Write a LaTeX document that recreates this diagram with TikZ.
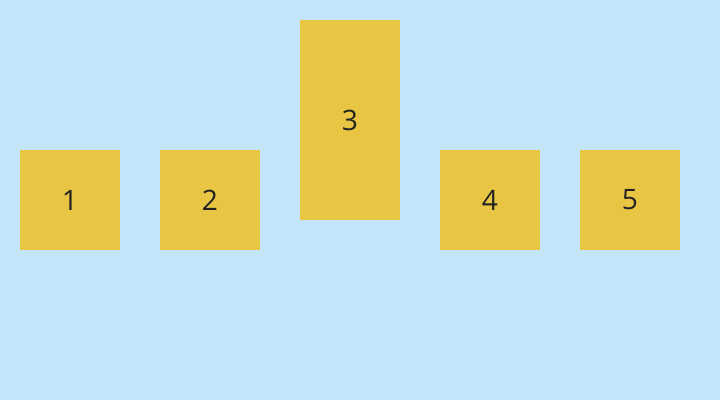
\documentclass[tikz,border=0pt]{standalone}
\usepackage{fontspec}
\setmainfont{Open Sans}
\usepackage{tikz}
\usetikzlibrary{positioning}
\definecolor{flexbg}{HTML}{C2E5F9}
\definecolor{flexgold}{HTML}{E8C644}
\definecolor{flexink}{HTML}{222222}

\begin{document}
\begin{tikzpicture}[
  every node/.style={font=\fontsize{20}{24}\selectfont, text=flexink},
  item/.style={fill=flexgold, minimum width=2.5cm, inner sep=0pt}
]

%% Background
\fill[flexbg] (0, 0) rectangle (18, 10);
\useasboundingbox (0, 0) rectangle (18, 10);

%% ── ITEMS ─────────────────────────────────────────────
\foreach \i/\x in {1/1.75, 2/5.25, 4/12.25, 5/15.75}
  \node[item, minimum height=2.5cm] (item\i) at (\x, 5.0) {\i};

\node[item, minimum height=5.0cm] (item3) at (8.75, 7.0) {3};

\end{tikzpicture}
\end{document}
